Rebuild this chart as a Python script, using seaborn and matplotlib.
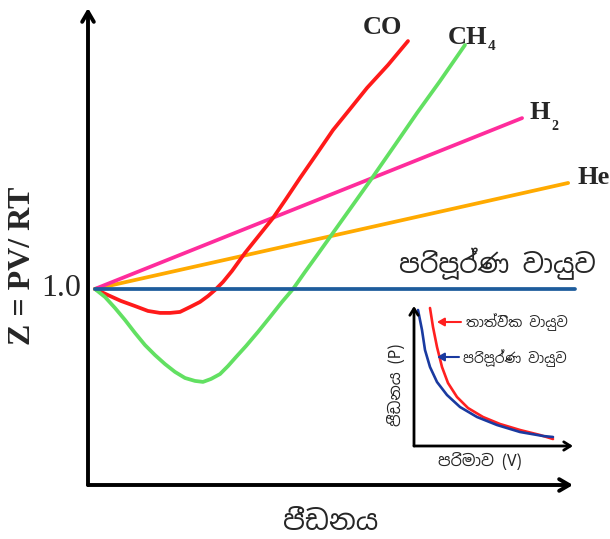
import numpy as np
import pandas as pd
import matplotlib
matplotlib.use("Agg")
import matplotlib.pyplot as plt
import seaborn as sns

sns.set_theme(style="white")
plt.rcParams['font.family'] = ['Noto Sans Sinhala', 'DejaVu Sans']

# ---- main chart data (pressure, Z) ----
ideal_p = [0.14, 10.04]
ideal_z = [1.0, 1.0]
he_p = [0.14, 9.90]
he_z = [1.0, 1.541]
h2_p = [0.14, 8.95]
h2_z = [1.0, 1.872]
co_p = [0.144, 0.412, 0.680, 0.969, 1.237, 1.485, 1.691, 1.897, 2.103, 2.309, 2.474, 2.619, 2.784,
        2.969, 3.237, 3.814, 4.082, 4.371, 4.701, 5.052, 5.402, 5.753, 6.186, 6.598]
co_z = [1.000, 0.969, 0.939, 0.913, 0.888, 0.878, 0.878, 0.883, 0.908, 0.934, 0.964, 0.995, 1.036,
        1.092, 1.184, 1.362, 1.459, 1.566, 1.684, 1.811, 1.918, 2.026, 2.143, 2.265]
ch4_p = [0.144, 0.351, 0.557, 0.763, 0.969, 1.175, 1.381, 1.588, 1.794, 2.000, 2.206, 2.371, 2.536,
         2.722, 2.887, 3.052, 3.258, 3.505, 3.753, 4.000, 4.227, 4.474, 4.742, 4.990, 5.402, 5.856,
         6.330, 6.784, 7.258, 7.773]
ch4_z = [1.000, 0.959, 0.903, 0.842, 0.776, 0.714, 0.663, 0.617, 0.577, 0.546, 0.531, 0.526, 0.541,
         0.566, 0.607, 0.653, 0.709, 0.781, 0.857, 0.934, 1.000, 1.087, 1.179, 1.265, 1.408, 1.566,
         1.735, 1.898, 2.061, 2.245]

series_names = ["He", "H2", "CO", "CH4", "ideal"]
series_colors = {"He": "#ffaa00", "H2": "#ff2c9c", "CO": "#ff1a1a", "CH4": "#62e062", "ideal": "#1d5c9c"}

# ---- inset data (volume, pressure) ----
real_v = [1.006, 1.195, 1.447, 1.761, 2.138, 2.704, 3.396, 4.340, 5.409, 6.667, 7.925, 8.742]
real_p = [9.787, 8.440, 7.021, 5.603, 4.468, 3.475, 2.695, 2.057, 1.560, 1.135, 0.780, 0.496]
idl_v = [0.252, 0.503, 0.692, 1.006, 1.447, 2.075, 2.893, 3.962, 5.220, 6.667, 8.119, 8.742]
idl_p = [9.645, 8.227, 6.809, 5.603, 4.539, 3.617, 2.766, 2.057, 1.489, 0.993, 0.709, 0.638]

ideal_label = "පරිපූර්ණ වායුව"
real_label = "තාත්වික වායුව"
x_label = "පීඩනය"
inset_x_label = "පරිමාව (V)"
inset_y_label = "පීඩනය (P)"

W, H = 610, 539
fig = plt.figure(figsize=(W / 100, H / 100), dpi=100)


def fx(px):
    return px / W


def fy(py):
    return 1 - py / H


# main axes: px x 88..600, y 8..485
ax = fig.add_axes([fx(88), fy(485), (600 - 88) / W, (485 - 8) / H])
frames = []
for name, p, z in [("He", he_p, he_z), ("H2", h2_p, h2_z), ("CO", co_p, co_z),
                   ("CH4", ch4_p, ch4_z), ("ideal", ideal_p, ideal_z)]:
    frames.append(pd.DataFrame({"P": p, "Z": z, "gas": name}))
df = pd.concat(frames, ignore_index=True)
sns.lineplot(data=df, x="P", y="Z", hue="gas", hue_order=series_names, palette=series_colors,
             estimator=None, sort=False, lw=2.7, legend=False, ax=ax)
for line in ax.lines:
    line.set_solid_joinstyle("round")
    line.set_solid_capstyle("round")
ax.set_xlim(0, 512 / 48.5)
ax.set_ylim(0, 477 / 196)
ax.set_axis_off()

arrow_kw = dict(arrowstyle="->,head_length=0.6,head_width=0.35", lw=2.8, color="black",
                shrinkA=0, shrinkB=0)
ax.annotate("", xy=(0, 1.0), xytext=(0, 0), xycoords="axes fraction", arrowprops=arrow_kw)
ax.annotate("", xy=((573 - 88) / 512, 0), xytext=(0, 0), xycoords="axes fraction", arrowprops=arrow_kw)

serif = ["Liberation Serif", "DejaVu Serif"]
fig.text(fx(61), fy(289), "1.0", family=serif, fontsize=23, ha="center", va="center")
fig.text(fx(23), fy(266), "Z = PV/ RT", family=serif, fontsize=23, fontweight="bold",
         rotation=90, ha="center", va="center")
fig.text(fx(382), fy(28), "CO", family=serif, fontsize=19, fontweight="bold", ha="center", va="center")
fig.text(fx(448), fy(37), "CH", family=serif, fontsize=19, fontweight="bold", ha="left", va="center")
fig.text(fx(488), fy(46), "4", family=serif, fontsize=11, fontweight="bold", ha="left", va="center")
fig.text(fx(529), fy(112), "H", family=serif, fontsize=19, fontweight="bold", ha="left", va="center")
fig.text(fx(551), fy(126), "2", family=serif, fontsize=10, fontweight="bold", ha="left", va="center")
fig.text(fx(577), fy(177), "He", family=serif, fontsize=19, fontweight="bold", ha="left", va="center")

fig.text(fx(497), fy(264), ideal_label, fontsize=19, ha="center", va="center")
fig.text(fx(331), fy(523), x_label, fontsize=20, ha="center", va="center")

# inset axes: px x 414..580, y 300..446
iax = fig.add_axes([fx(414), fy(446), 166 / W, 146 / H])
idf = pd.concat([pd.DataFrame({"V": real_v, "P": real_p, "kind": "real"}),
                 pd.DataFrame({"V": idl_v, "P": idl_p, "kind": "ideal"})], ignore_index=True)
sns.lineplot(data=idf, x="V", y="P", hue="kind", hue_order=["real", "ideal"],
             palette={"real": "#ff2020", "ideal": "#1a3aa0"},
             estimator=None, sort=False, lw=1.9, legend=False, ax=iax)
for line in iax.lines:
    line.set_solid_joinstyle("round")
iax.set_xlim(0, 166 / 15.9)
iax.set_ylim(0, 146 / 14.1)
iax.set_axis_off()
iarrow = dict(arrowstyle="->,head_length=0.4,head_width=0.25", lw=2.0, color="black",
              shrinkA=0, shrinkB=0)
iax.annotate("", xy=(0, (446 - 306) / 146), xytext=(0, 0), xycoords="axes fraction", arrowprops=iarrow)
iax.annotate("", xy=((573 - 414) / 166, 0), xytext=(0, 0), xycoords="axes fraction", arrowprops=iarrow)

fig.text(fx(517), fy(322), real_label, fontsize=10, ha="center", va="center")
fig.text(fx(515), fy(358), ideal_label, fontsize=10, ha="center", va="center")
fig.text(fx(480), fy(461), inset_x_label, fontsize=11.5, ha="center", va="center")
fig.text(fx(396), fy(385), inset_y_label, fontsize=11.5, rotation=90, ha="center", va="center")

fig_ax = fig.add_axes([0, 0, 1, 1], facecolor="none")
fig_ax.set_axis_off()
fig_ax.set_xlim(0, W)
fig_ax.set_ylim(H, 0)
fig_ax.annotate("", xy=(437, 322), xytext=(461, 322),
                arrowprops=dict(arrowstyle="-|>,head_length=0.35,head_width=0.2", lw=1.5, color="#ff2020",
                                shrinkA=0, shrinkB=0))
fig_ax.annotate("", xy=(437, 357), xytext=(459, 357),
                arrowprops=dict(arrowstyle="-|>,head_length=0.35,head_width=0.2", lw=1.5, color="#1a3aa0",
                                shrinkA=0, shrinkB=0))

fig.savefig("out.png", dpi=100)
